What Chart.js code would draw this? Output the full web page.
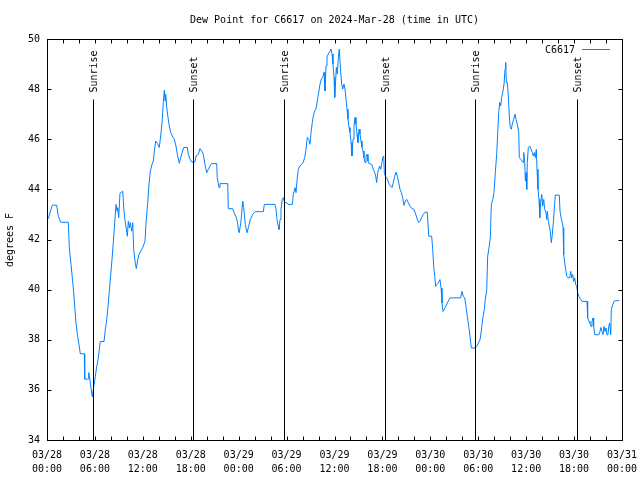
<!DOCTYPE html>
<html>
<head>
<meta charset="utf-8">
<script src="https://cdn.jsdelivr.net/npm/chart.js@4"></script>
<style>
  body { margin: 0; background: #fff; }
  #wrap { width: 640px; height: 480px; }
</style>
</head>
<body>
<div id="wrap"><canvas id="dew" width="640" height="480"></canvas></div>
<script>
// hours since 03/28 00:00 UTC
const hours = [
  0.16, 0.66, 1.21, 1.42, 1.72, 2.67, 2.79, 3.01, 3.17, 3.29, 3.47, 3.63, 3.84, 4.01, 4.17, 4.67, 4.72, 5.17, 5.22, 5.35,
  5.51, 5.67, 5.85, 6.05, 6.22, 6.39, 6.55, 6.67, 7.14, 7.30, 7.48, 7.64, 7.80, 7.98, 8.14, 8.30, 8.48, 8.64, 8.77, 8.85,
  8.98, 9.14, 9.48, 9.64, 9.80, 9.98, 10.06, 10.18, 10.31, 10.43, 10.61, 10.73, 10.86, 11.02, 11.18, 11.36, 11.52, 11.73, 11.98, 12.27,
  12.40, 12.61, 12.77, 12.94, 13.15, 13.31, 13.44, 13.61, 13.81, 14.06, 14.28, 14.44, 14.56, 14.69, 14.78, 14.86, 14.99, 15.15, 15.31, 15.49,
  15.69, 15.94, 16.15, 16.32, 16.57, 16.74, 16.94, 17.12, 17.57, 17.69, 17.91, 18.12, 18.53, 18.66, 18.95, 19.16, 19.37, 19.57, 19.78, 20.00,
  20.20, 20.41, 20.62, 21.25, 21.32, 21.54, 21.66, 22.63, 22.70, 23.25, 23.42, 23.63, 23.83, 24.00, 24.08, 24.29, 24.51, 24.63, 24.83, 25.04,
  25.26, 25.46, 25.76, 26.05, 27.09, 27.21, 28.55, 28.68, 28.80, 28.96, 29.05, 29.18, 29.30, 29.46, 29.59, 29.76, 30.02, 30.22, 30.72, 30.84,
  31.06, 31.18, 31.34, 31.47, 31.68, 31.89, 32.09, 32.27, 32.43, 32.59, 32.77, 32.93, 33.06, 33.22, 33.35, 33.52, 33.68, 33.85, 34.02, 34.19,
  34.35, 34.52, 34.69, 34.81, 34.94, 35.06, 35.22, 35.40, 35.56, 35.69, 35.81, 35.94, 36.03, 36.10, 36.23, 36.35, 36.48, 36.60, 36.73, 36.90,
  37.03, 37.19, 37.32, 37.44, 37.57, 37.69, 37.82, 37.94, 38.07, 38.19, 38.32, 38.44, 38.57, 38.69, 38.82, 38.94, 39.07, 39.19, 39.32, 39.44,
  39.57, 39.69, 39.82, 39.94, 40.07, 40.19, 40.32, 40.66, 40.86, 41.03, 41.16, 41.28, 41.41, 41.53, 41.66, 41.79, 41.91, 42.04, 42.16, 42.24,
  42.36, 42.54, 42.70, 42.86, 43.04, 43.20, 43.36, 43.54, 43.70, 43.86, 44.04, 44.20, 44.37, 44.54, 44.70, 44.87, 45.04, 45.24, 45.45, 45.71,
  45.96, 46.17, 46.37, 46.54, 46.71, 46.92, 47.12, 47.33, 47.62, 47.80, 48.17, 48.30, 48.42, 48.55, 48.67, 48.80, 49.00, 49.21, 49.34, 49.46,
  49.59, 49.84, 50.13, 50.46, 51.80, 51.97, 52.13, 52.30, 52.47, 52.63, 52.81, 52.97, 53.13, 53.63, 53.81, 54.01, 54.22, 54.35, 54.47, 54.60,
  54.76, 54.88, 55.06, 55.18, 55.35, 55.51, 55.64, 55.81, 55.97, 56.14, 56.31, 56.44, 56.56, 56.69, 56.81, 56.94, 57.10, 57.23, 57.35, 57.44,
  57.51, 57.64, 57.76, 57.89, 58.01, 58.14, 58.26, 58.44, 58.60, 58.73, 58.89, 59.07, 59.14, 59.32, 59.48, 59.61, 59.70, 59.82, 59.90, 59.98,
  60.07, 60.14, 60.27, 60.44, 60.61, 60.77, 60.90, 61.02, 61.15, 61.27, 61.36, 61.48, 61.61, 61.70, 61.82, 61.95, 62.07, 62.20, 62.32, 62.48,
  62.57, 62.65, 62.77, 62.90, 63.02, 63.15, 63.27, 63.40, 63.52, 63.65, 64.15, 64.24, 64.37, 64.49, 64.62, 64.70, 64.83, 64.95, 65.08, 65.24,
  65.45, 65.58, 65.70, 65.83, 65.95, 66.08, 66.20, 66.33, 66.45, 66.62, 66.78, 66.99, 67.62, 67.70, 67.87, 67.99, 68.12, 68.24, 68.37, 68.45,
  68.58, 69.11, 69.24, 69.36, 69.49, 69.62, 69.74, 69.87, 69.99, 70.12, 70.24, 70.33, 70.46, 70.59, 70.66, 70.84, 71.00, 71.21, 71.66
];

const dewPointF = [
  42.83, 43.37, 43.37, 42.93, 42.69, 42.69, 41.69, 41.00, 40.47, 40.07, 39.33, 38.67, 38.13, 37.80, 37.44, 37.44, 36.43, 36.43, 36.69, 36.47,
  36.07, 35.73, 36.13, 36.53, 36.93, 37.20, 37.60, 37.93, 37.93, 38.40, 38.80, 39.33, 39.93, 40.60, 41.20, 41.87, 42.67, 43.40, 43.13, 43.27,
  42.87, 43.84, 43.93, 43.13, 42.69, 42.33, 42.13, 42.73, 42.47, 42.67, 42.33, 42.67, 41.60, 41.13, 40.84, 41.20, 41.40, 41.53, 41.67, 41.93,
  42.67, 43.47, 44.20, 44.73, 45.00, 45.13, 45.53, 45.93, 45.84, 45.67, 46.27, 46.80, 47.47, 47.96, 47.53, 47.80, 47.27, 46.87, 46.53, 46.27,
  46.13, 46.00, 45.73, 45.40, 45.04, 45.27, 45.49, 45.67, 45.67, 45.40, 45.20, 45.09, 45.09, 45.33, 45.40, 45.63, 45.53, 45.40, 45.00, 44.67,
  44.80, 44.93, 45.03, 45.03, 44.47, 44.07, 44.23, 44.23, 43.23, 43.23, 43.07, 42.93, 42.73, 42.33, 42.27, 42.73, 43.53, 43.27, 42.60, 42.27,
  42.53, 42.80, 43.00, 43.11, 43.11, 43.40, 43.40, 43.20, 42.80, 42.53, 42.40, 42.80, 43.20, 43.60, 43.67, 43.47, 43.47, 43.40, 43.40, 43.80,
  44.07, 43.87, 44.47, 44.80, 44.93, 45.00, 45.09, 45.27, 45.60, 46.07, 46.00, 45.80, 46.27, 46.67, 46.93, 47.13, 47.20, 47.53, 47.87, 48.20,
  48.40, 48.47, 48.67, 47.93, 48.93, 49.27, 49.40, 49.49, 49.60, 49.40, 49.00, 48.47, 47.67, 48.07, 48.87, 48.60, 49.27, 49.60, 48.87, 48.20,
  48.00, 48.20, 48.00, 47.60, 47.20, 46.80, 46.47, 46.27, 45.87, 45.33, 46.00, 46.53, 46.87, 46.60, 46.20, 45.87, 46.40, 46.20, 45.93, 45.67,
  45.53, 45.27, 45.07, 45.33, 45.40, 45.13, 45.03, 45.00, 44.80, 44.67, 44.53, 44.27, 44.67, 44.80, 44.93, 44.80, 45.00, 45.27, 45.33, 44.67,
  44.53, 44.47, 44.33, 44.20, 44.13, 44.07, 44.27, 44.53, 44.69, 44.53, 44.27, 44.00, 43.87, 43.67, 43.36, 43.53, 43.60, 43.47, 43.33, 43.23,
  43.20, 43.00, 42.80, 42.67, 42.73, 42.89, 43.00, 43.09, 43.09, 42.13, 42.13, 41.60, 40.93, 40.53, 40.13, 40.20, 40.27, 40.40, 40.07, 39.47,
  39.13, 39.27, 39.47, 39.67, 39.67, 39.93, 39.73, 39.67, 39.33, 38.93, 38.53, 38.13, 37.67, 37.67, 37.73, 37.87, 38.00, 38.27, 38.60, 38.93,
  39.20, 39.60, 40.00, 41.33, 41.67, 42.07, 43.40, 43.60, 43.87, 44.67, 45.40, 46.27, 47.07, 47.47, 47.33, 47.67, 47.93, 48.20, 48.80, 49.07,
  48.27, 48.27, 47.73, 46.93, 46.47, 46.40, 46.60, 46.80, 47.00, 46.80, 46.60, 46.27, 45.27, 45.20, 45.13, 45.07, 45.47, 45.07, 44.33, 44.67,
  44.00, 45.07, 45.67, 45.73, 45.60, 45.47, 45.33, 45.47, 45.27, 45.60, 44.80, 44.00, 43.60, 42.87, 43.47, 43.80, 43.33, 43.60, 43.20, 43.07,
  42.80, 43.13, 42.73, 42.53, 42.33, 41.87, 42.20, 42.67, 43.20, 43.77, 43.77, 43.13, 42.87, 42.73, 42.47, 41.40, 41.07, 40.80, 40.53, 40.47,
  40.47, 40.73, 40.47, 40.60, 40.33, 40.47, 40.20, 40.13, 39.87, 39.73, 39.63, 39.53, 39.53, 38.87, 38.73, 38.67, 38.53, 38.73, 38.87, 38.56,
  38.20, 38.20, 38.33, 38.49, 38.33, 38.20, 38.53, 38.33, 38.47, 38.20, 38.20, 38.53, 38.67, 38.20, 39.20, 39.40, 39.53, 39.56, 39.56
];

const sunTimes = [5.80, 18.32, 29.71, 42.36, 53.63, 66.40];
const sunLabels = ['Sunrise', 'Sunset', 'Sunrise', 'Sunset', 'Sunrise', 'Sunset'];

const tickDays = ['03/28', '03/28', '03/28', '03/28', '03/29', '03/29', '03/29', '03/29', '03/30', '03/30', '03/30', '03/30', '03/31'];
const tickTimes = ['00:00', '06:00', '12:00', '18:00', '00:00', '06:00', '12:00', '18:00', '00:00', '06:00', '12:00', '18:00', '00:00'];

const stationName = 'C6617';
const titleText = 'Dew Point for C6617 on 2024-Mar-28 (time in UTC)';
const yTitle = 'degrees F';

const FONT = '10px "DejaVu Sans Mono"';
const LINE_COLOR = 'rgb(0,128,255)';

Chart.defaults.font.family = '"DejaVu Sans Mono"';
Chart.defaults.font.size = 10;
Chart.defaults.color = '#000';

const points = hours.map((h, i) => ({ x: h, y: dewPointF[i] }));

// frame, inward ticks, sunrise/sunset markers, title and legend
const gnuplotBits = {
  id: 'gnuplotBits',
  afterDatasetsDraw(chart) {
    const { ctx, chartArea: a, scales: { x, y } } = chart;
    ctx.save();
    ctx.strokeStyle = '#000';
    ctx.lineWidth = 1;

    const L = Math.round(a.left) + 0.5, R = Math.round(a.right) + 0.5;
    const T = Math.round(a.top) + 0.5, B = Math.round(a.bottom) + 0.5;
    ctx.strokeRect(L, T, R - L, B - T);

    ctx.beginPath();
    for (let v = 0; v <= 72; v += 2) {
      const px = Math.round(x.getPixelForValue(v)) + 0.5;
      ctx.moveTo(px, B); ctx.lineTo(px, B - 4);
      ctx.moveTo(px, T); ctx.lineTo(px, T + 4);
    }
    for (let v = 34; v <= 50; v += 2) {
      const py = Math.round(y.getPixelForValue(v)) + 0.5;
      ctx.moveTo(L, py); ctx.lineTo(L + 4, py);
      ctx.moveTo(R, py); ctx.lineTo(R - 4, py);
    }
    ctx.stroke();

    ctx.font = FONT;
    ctx.fillStyle = '#000';
    sunTimes.forEach((t, i) => {
      const px = Math.round(x.getPixelForValue(t)) + 0.5;
      ctx.beginPath();
      ctx.moveTo(px, B);
      ctx.lineTo(px, T + 60);
      ctx.stroke();
      ctx.save();
      ctx.translate(px + 1, T + 53);
      ctx.rotate(-Math.PI / 2);
      ctx.textAlign = 'left';
      ctx.textBaseline = 'middle';
      ctx.fillText(sunLabels[i], 0, 0);
      ctx.restore();
    });

    // legend
    ctx.textAlign = 'right';
    ctx.textBaseline = 'middle';
    ctx.fillText(stationName, 575, 50);
    ctx.strokeStyle = LINE_COLOR;
    ctx.beginPath();
    ctx.moveTo(582, 49.5);
    ctx.lineTo(610, 49.5);
    ctx.stroke();

    // title
    ctx.textAlign = 'center';
    ctx.fillText(titleText, (a.left + a.right) / 2, 20);

    // y axis title
    ctx.save();
    ctx.translate(10, 240);
    ctx.rotate(-Math.PI / 2);
    ctx.textAlign = 'center';
    ctx.fillText(yTitle, 0, 0);
    ctx.restore();

    ctx.restore();
  }
};

new Chart(document.getElementById('dew'), {
  type: 'line',
  data: {
    datasets: [{
      label: stationName,
      data: points,
      borderColor: LINE_COLOR,
      borderWidth: 1,
      pointRadius: 0,
      tension: 0,
      fill: false
    }]
  },
  options: {
    responsive: false,
    animation: false,
    layout: { padding: { top: 39, right: 18, left: 0, bottom: 0 } },
    plugins: {
      legend: { display: false },
      title: { display: false },
      tooltip: { enabled: false }
    },
    scales: {
      x: {
        type: 'linear',
        min: 0,
        max: 72,
        afterFit: s => { s.height = 40; s.paddingLeft = 0; s.paddingRight = 0; },
        afterBuildTicks: s => {
          s.ticks = tickDays.map((d, i) => ({ value: i * 6 }));
        },
        grid: { display: false, drawTicks: false },
        border: { display: false },
        ticks: {
          padding: 9,
          maxRotation: 0,
          autoSkip: false,
          font: { size: 10, lineHeight: 1.35 },
          callback: v => {
            const i = Math.round(v / 6);
            return [tickDays[i], tickTimes[i]];
          }
        }
      },
      y: {
        min: 34,
        max: 50,
        afterFit: s => { s.width = 47; s.paddingTop = 0; s.paddingBottom = 0; },
        grid: { display: false, drawTicks: false },
        border: { display: false },
        ticks: { stepSize: 2, padding: 7, font: { size: 10 } }
      }
    }
  },
  plugins: [gnuplotBits]
});
</script>
</body>
</html>
